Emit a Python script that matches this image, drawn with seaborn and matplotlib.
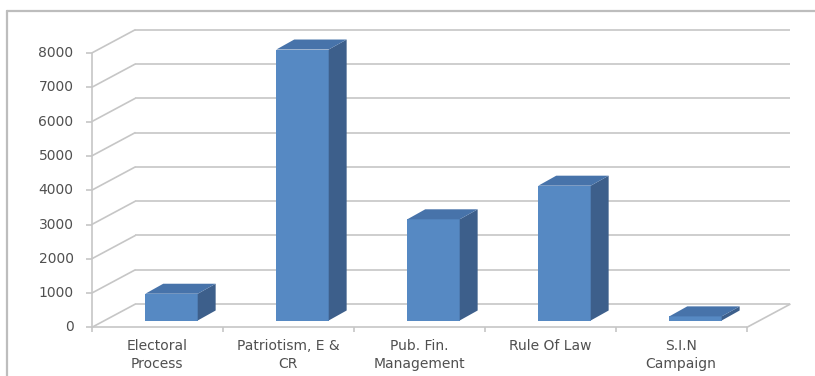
import matplotlib
matplotlib.use("Agg")
import matplotlib.pyplot as plt
from matplotlib.patches import Polygon
import seaborn as sns
import pandas as pd

categories = ["Electoral\nProcess", "Patriotism, E &\nCR", "Pub. Fin.\nManagement",
              "Rule Of Law", "S.I.N\nCampaign"]
values = [780, 7900, 2950, 3930, 120]
y_ticks = [0, 1000, 2000, 3000, 4000, 5000, 6000, 7000, 8000]

FRONT = "#5689c3"
SIDE = "#3d5f8b"
TOP = "#4773aa"
GRID = "#c6c6c6"
TEXT = "#505050"

sns.set_theme(style="white")
plt.rcParams["font.family"] = ["DejaVu Sans"]

fig = plt.figure(figsize=(8.15, 3.76), dpi=100)
ax = fig.add_axes([0, 0, 1, 1])
ax.set_axis_off()

df = pd.DataFrame({"cat": categories, "val": values})
sns.barplot(data=df, x="cat", y="val", color=FRONT, width=0.4, saturation=1,
            edgecolor="none", linewidth=0, ax=ax, zorder=3)
ax.set_axis_off()

# view: 131 px per category, 34.3 px per 1000 units
ax.set_xlim(-171.5 / 131, (815 - 171.5) / 131)
ax.set_ylim((320.5 - 376) / 0.0343, 320.5 / 0.0343)

# oblique offsets of the 3-D box (category units, value units)
bar_d = (0.137, 292)      # depth of a bar
front = (-0.11, -204)     # front plane relative to bar plane
back = (0.225, 481)       # back wall relative to bar plane

n = len(categories)
x_left, x_right = -0.5, n - 0.5
ymax = y_ticks[-1]
lk = dict(color=GRID, lw=1.2, zorder=1, solid_capstyle="butt")

# back wall gridlines and left wall diagonals
for v in y_ticks:
    ax.plot([x_left + back[0], x_right + back[0]], [v + back[1]] * 2, **lk)
    ax.plot([x_left + front[0], x_left + back[0]], [v + front[1], v + back[1]], **lk)

# front vertical axis and floor edges
ax.plot([x_left + front[0]] * 2, [front[1], ymax + front[1]], **lk)
ax.plot([x_left + front[0], x_right + front[0]], [front[1]] * 2, **lk)
ax.plot([x_right + front[0], x_right + back[0]], [front[1], back[1]], **lk)

# y ticks and labels
tick_dx = 6 / 131
for v in y_ticks:
    ax.plot([x_left + front[0] - tick_dx, x_left + front[0]], [v + front[1]] * 2, **lk)
    ax.text(x_left + front[0] - 18 / 131, v + front[1], f"{v}", ha="right", va="center",
            fontsize=10, color=TEXT)

# category boundary ticks and labels
tick_dy = 5 / 0.0343
for i in range(n + 1):
    xb = x_left + i + front[0]
    ax.plot([xb, xb], [front[1], front[1] - tick_dy], **lk)
for i, c in enumerate(categories):
    ax.text(i + front[0], front[1] - 12 / 0.0343, c, ha="center", va="top",
            fontsize=10, color=TEXT, linespacing=1.3)

# side and top faces of every bar
for p in list(ax.patches):
    x0, w, h = p.get_x(), p.get_width(), p.get_height()
    dx, dy = bar_d
    side = [(x0 + w, 0), (x0 + w + dx, dy), (x0 + w + dx, h + dy), (x0 + w, h)]
    top = [(x0, h), (x0 + w, h), (x0 + w + dx, h + dy), (x0 + dx, h + dy)]
    ax.add_patch(Polygon(side, closed=True, facecolor=SIDE, edgecolor="none", zorder=3))
    ax.add_patch(Polygon(top, closed=True, facecolor=TOP, edgecolor="none", zorder=3))

# chart-area border
border = dict(color="#bdbdbd", lw=1.6, transform=fig.transFigure, clip_on=False)
fig.add_artist(plt.Line2D([7 / 815, 7 / 815], [0, 1 - 11 / 376], **border))
fig.add_artist(plt.Line2D([7 / 815, 1], [1 - 11 / 376, 1 - 11 / 376], **border))

fig.savefig("out.png", dpi=100)
